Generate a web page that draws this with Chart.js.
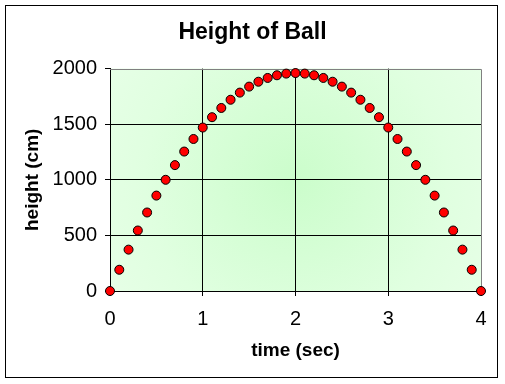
<!DOCTYPE html>
<html>
<head>
<meta charset="utf-8">
<script src="https://cdn.jsdelivr.net/npm/chart.js@4"></script>
<style>
  html, body { margin: 0; padding: 0; background: #ffffff; }
  #wrap { width: 505px; height: 384px; position: relative; }
</style>
</head>
<body>
<div id="wrap"><canvas id="c" width="505" height="384"></canvas></div>
<script>
const chartTitle = "Height of Ball";
const xAxisTitle = "time (sec)";
const yAxisTitle = "height (cm)";
const timeSec = [0, 0.1, 0.2, 0.3, 0.4, 0.5, 0.6, 0.7, 0.8, 0.9, 1.0,
                 1.1, 1.2, 1.3, 1.4, 1.5, 1.6, 1.7, 1.8, 1.9, 2.0,
                 2.1, 2.2, 2.3, 2.4, 2.5, 2.6, 2.7, 2.8, 2.9, 3.0,
                 3.1, 3.2, 3.3, 3.4, 3.5, 3.6, 3.7, 3.8, 3.9, 4.0];
const heightCm = [0, 191, 372, 544, 706, 858, 1000, 1132, 1254, 1367, 1470,
                  1563, 1646, 1720, 1784, 1838, 1882, 1916, 1940, 1955, 1960,
                  1955, 1940, 1916, 1882, 1838, 1784, 1720, 1646, 1563, 1470,
                  1367, 1254, 1132, 1000, 858, 706, 544, 372, 191, 0];
const xTicks = [0, 1, 2, 3, 4];
const yTicks = [0, 500, 1000, 1500, 2000];

const points = timeSec.map((t, i) => ({ x: t, y: heightCm[i] }));

const bgPlugin = {
  id: 'bgPlugin',
  beforeDraw(chart) {
    const { ctx, chartArea: a } = chart;
    ctx.save();
    ctx.fillStyle = '#ffffff';
    ctx.fillRect(0, 0, chart.width, chart.height);
    const cx = (a.left + a.right) / 2, cy = (a.top + a.bottom) / 2;
    const r = Math.hypot(a.right - a.left, a.bottom - a.top) / 2;
    const g = ctx.createRadialGradient(cx, cy, 0, cx, cy, r);
    g.addColorStop(0, '#cbfdcb');
    g.addColorStop(0.7, '#e0ffe0');
    g.addColorStop(1, '#e6ffe6');
    ctx.fillStyle = g;
    ctx.fillRect(a.left, a.top, a.right - a.left, a.bottom - a.top);
    ctx.restore();
  },
  afterDraw(chart) {
    const { ctx } = chart;
    ctx.save();
    ctx.strokeStyle = '#000000';
    ctx.lineWidth = 1;
    ctx.strokeRect(5.5, 5.5, 492, 372);
    ctx.restore();
  }
};

const edgePlugin = {
  id: 'edgePlugin',
  beforeDatasetsDraw(chart) {
    const { ctx, chartArea: a } = chart;
    ctx.save();
    ctx.strokeStyle = '#808080';
    ctx.lineWidth = 1;
    ctx.beginPath();
    const t = Math.round(a.top) + 0.5, r = Math.round(a.right) + 0.5;
    ctx.moveTo(a.left, t);
    ctx.lineTo(r, t);
    ctx.lineTo(r, a.bottom);
    ctx.stroke();
    ctx.restore();
  }
};

const plainNum = (v) => String(v);

new Chart(document.getElementById('c'), {
  type: 'scatter',
  data: {
    datasets: [{
      data: points,
      backgroundColor: '#ff0000',
      borderColor: '#000000',
      borderWidth: 1,
      pointRadius: 4.5,
      pointHoverRadius: 4.5,
      clip: false
    }]
  },
  options: {
    responsive: false,
    animation: false,
    events: [],
    layout: { padding: { left: 24, right: 24, top: 8, bottom: 0 } },
    plugins: {
      legend: { display: false },
      tooltip: { enabled: false },
      title: {
        display: true,
        text: chartTitle,
        color: '#000000',
        font: { family: 'Liberation Sans, Arial, sans-serif', size: 23, weight: 'bold' },
        padding: { top: 11, bottom: 22 }
      }
    },
    scales: {
      x: {
        type: 'linear',
        min: 0, max: 4,
        afterFit(s) { s.height = 93; },
        afterBuildTicks(s) { s.ticks = xTicks.map(v => ({ value: v })); },
        ticks: {
          color: '#000000',
          padding: 11,
          maxRotation: 0,
          callback: plainNum,
          font: { family: 'Liberation Sans, Arial, sans-serif', size: 20 }
        },
        grid: {
          color: (c) => (c.tick && c.tick.value === 4) ? 'rgba(0,0,0,0)' : '#000000',
          tickColor: '#000000',
          tickLength: 5,
          lineWidth: 1
        },
        border: { color: '#000000', width: 1 },
        title: {
          display: true,
          text: xAxisTitle,
          color: '#000000',
          font: { family: 'Liberation Sans, Arial, sans-serif', size: 19, weight: 'bold' },
          padding: { top: 0, bottom: 22 }
        }
      },
      y: {
        type: 'linear',
        min: 0, max: 2000,
        afterFit(s) { s.width = 86; },
        afterBuildTicks(s) { s.ticks = yTicks.map(v => ({ value: v })); },
        ticks: {
          color: '#000000',
          padding: 8,
          callback: plainNum,
          font: { family: 'Liberation Sans, Arial, sans-serif', size: 20 }
        },
        grid: {
          color: (c) => (c.tick && c.tick.value === 2000) ? 'rgba(0,0,0,0)' : '#000000',
          tickColor: '#000000',
          tickLength: 5,
          lineWidth: 1
        },
        border: { color: '#000000', width: 1 },
        title: {
          display: true,
          text: yAxisTitle,
          color: '#000000',
          font: { family: 'Liberation Sans, Arial, sans-serif', size: 19, weight: 'bold', lineHeight: 0.9 },
          padding: { top: 0, bottom: 0 }
        }
      }
    }
  },
  plugins: [bgPlugin, edgePlugin]
});
</script>
</body>
</html>
